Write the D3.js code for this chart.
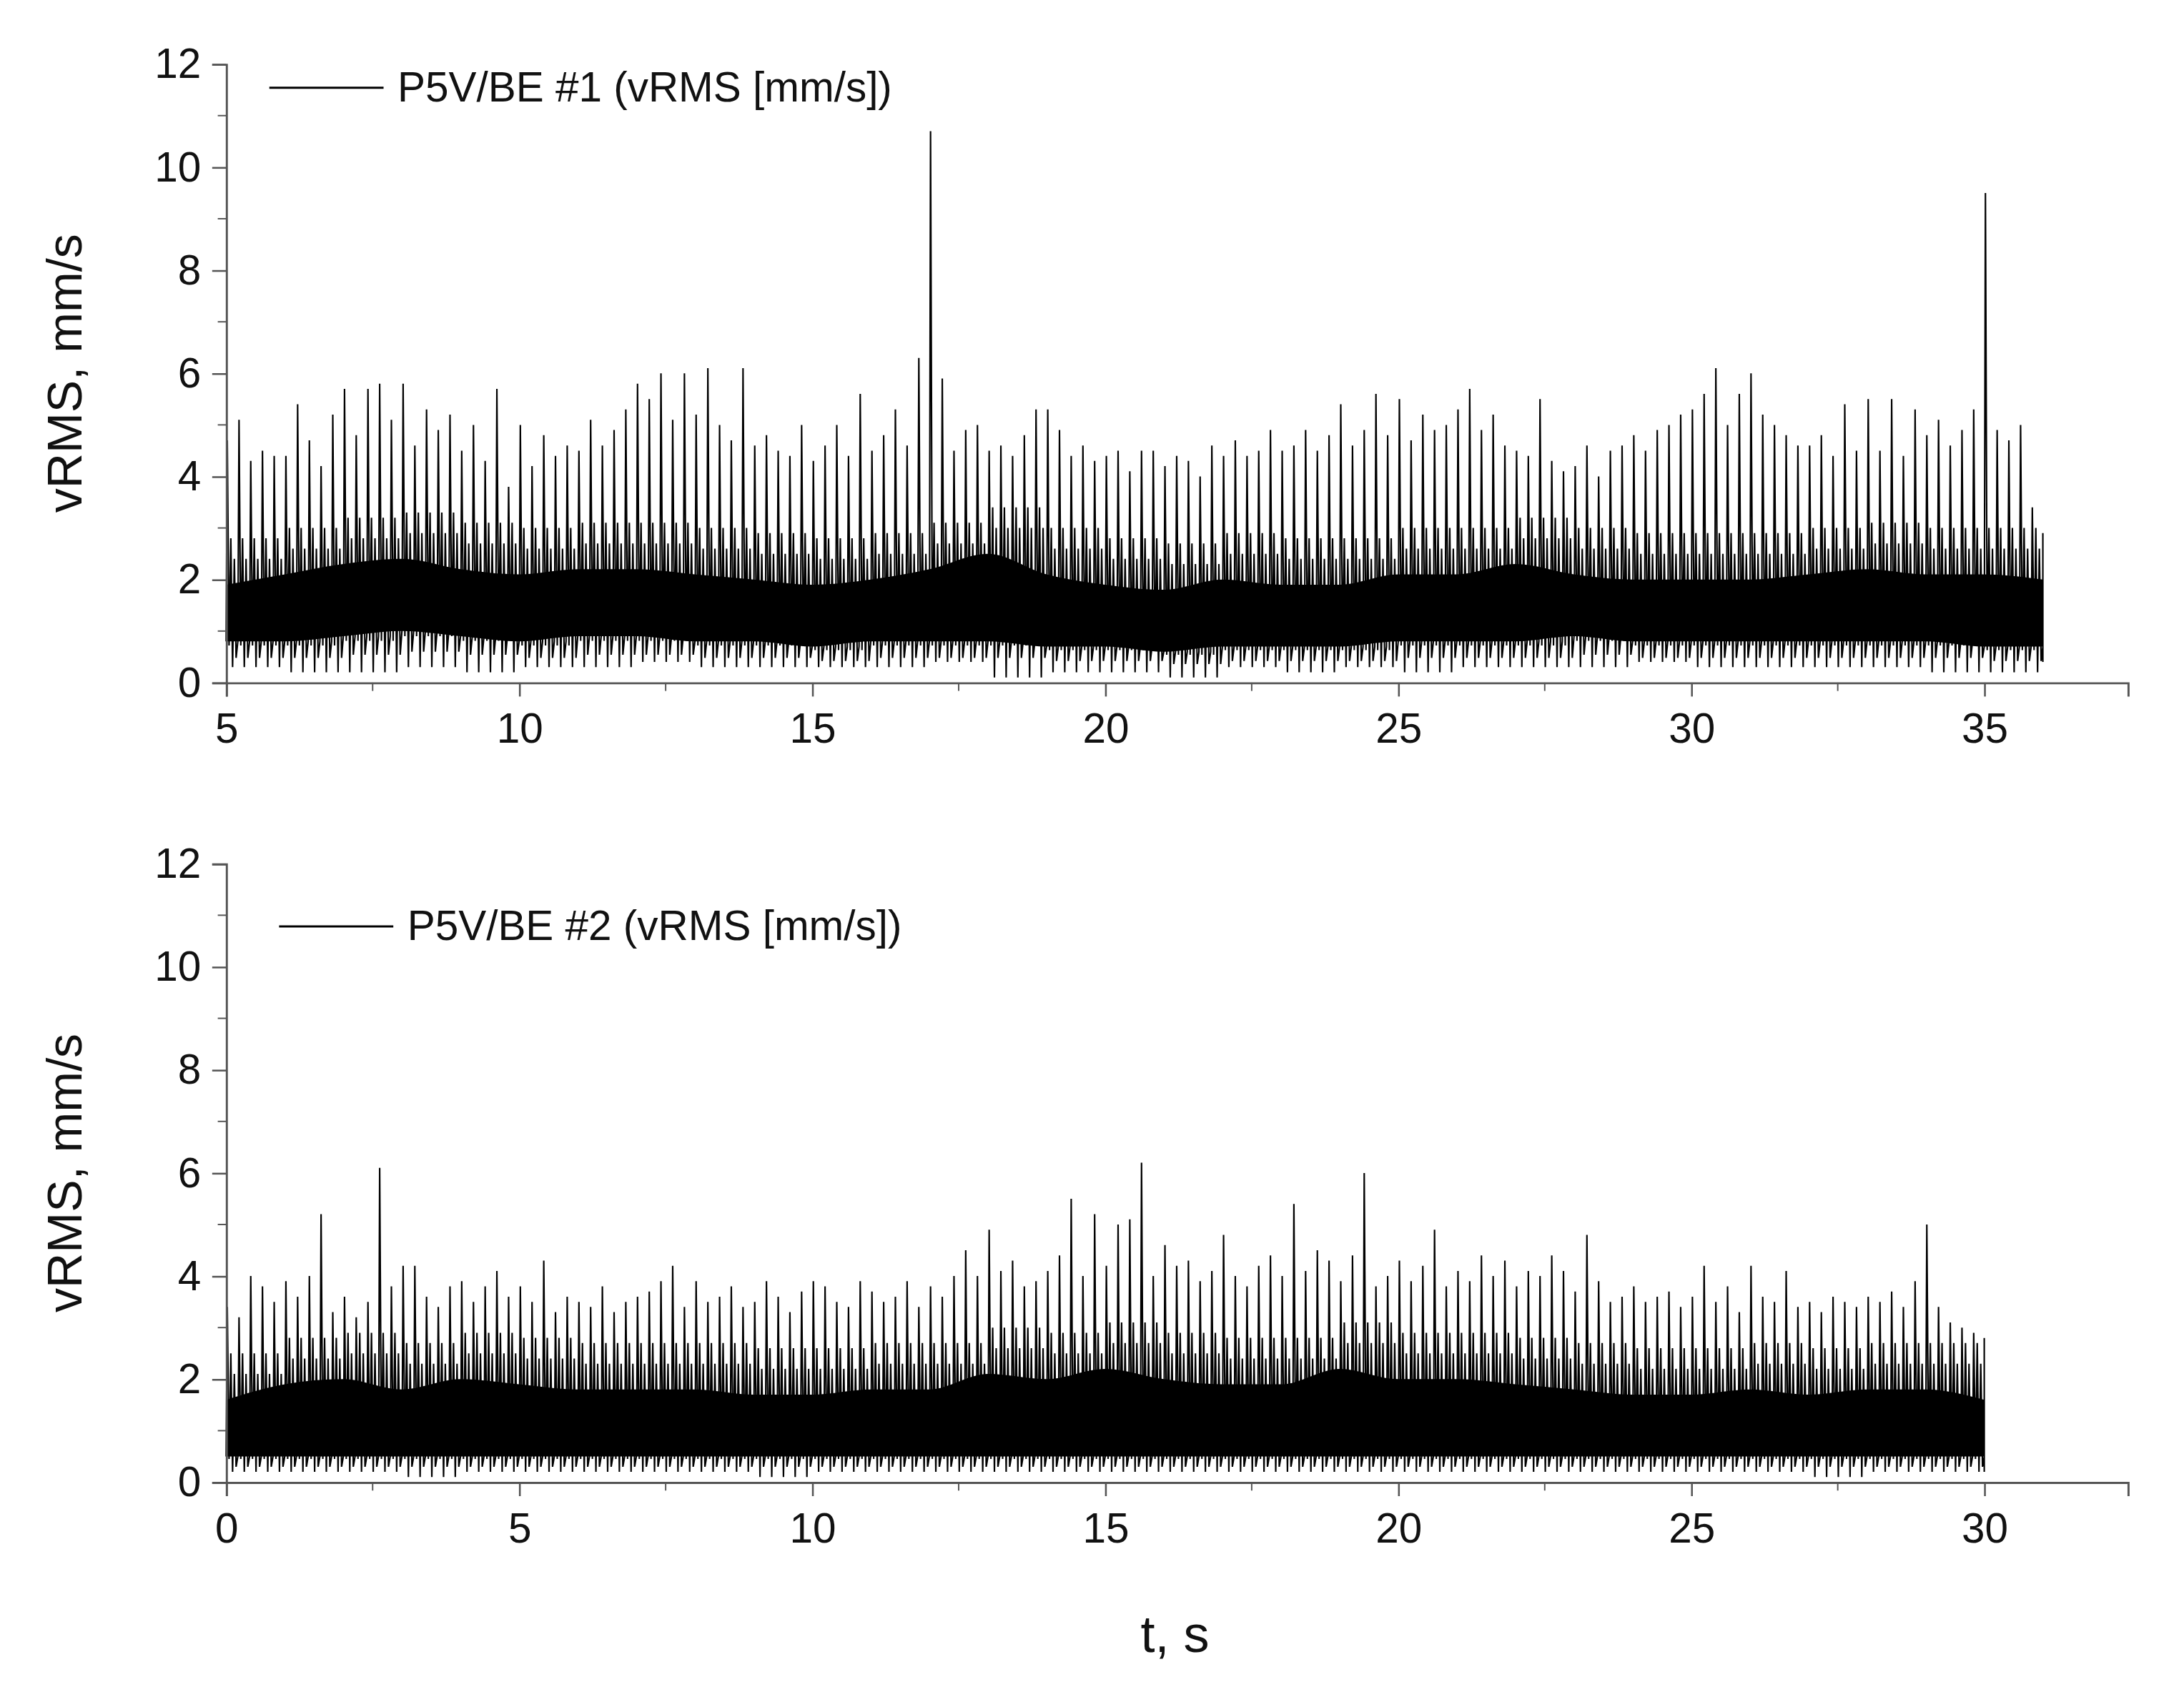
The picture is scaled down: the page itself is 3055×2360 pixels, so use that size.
<!DOCTYPE html>
<html><head><meta charset="utf-8">
<script src="https://cdn.jsdelivr.net/npm/d3@7"></script>
<style>body{margin:0;background:#fff}svg{display:block}</style>
</head><body>
<script>
// ---- data ----
const yTicks = [0,2,4,6,8,10,12];
const xTicks1 = [5,10,15,20,25,30,35];
const xTicks2 = [0,5,10,15,20,25,30];
const legend1 = "P5V/BE #1 (vRMS [mm/s])";
const legend2 = "P5V/BE #2 (vRMS [mm/s])";
const start1 = 5, step = 0.2;
const peaks1 = [4.7,5.1,4.3,4.5,4.4, 4.4,5.4,4.7,4.2,5.2, 5.7,4.8,5.7,5.8,5.1, 5.8,4.6,5.3,4.9,5.2,
 4.5,5.0,4.3,5.7,3.8, 5.0,4.2,4.8,4.4,4.6, 4.5,5.1,4.6,4.9,5.3, 5.8,5.5,6.0,5.1,6.0,
 5.2,6.1,5.0,4.7,6.1, 4.6,4.8,4.5,4.4,5.0, 4.3,4.6,5.0,4.4,5.6, 4.5,4.8,5.3,4.6,6.3,
 10.7,5.9,4.5,4.9,5.0, 4.5,4.6,4.4,4.8,5.3, 5.3,4.9,4.4,4.6,4.3, 4.4,4.5,4.1,4.5,4.5,
 4.2,4.4,4.3,4.0,4.6, 4.4,4.7,4.4,4.5,4.9, 4.5,4.6,4.9,4.5,4.8, 5.4,4.6,4.9,5.6,4.8,
 5.5,4.7,5.2,4.9,5.0, 5.3,5.7,4.9,5.2,4.6, 4.5,4.4,5.5,4.3,4.1, 4.2,4.6,4.0,4.5,4.6,
 4.8,4.5,4.9,5.0,5.2, 5.3,5.6,6.1,5.0,5.6, 6.0,5.2,5.0,4.8,4.6, 4.6,4.8,4.4,5.4,4.5,
 5.5,4.5,5.5,4.4,5.3, 4.8,5.1,4.6,4.9,5.3, 9.5,4.9,4.7,5.0,3.4, 2.5];
const mins1 = [0.3,0.2,0.2,0.3,0.2,0.3,0.3,0.4,0.3,0.3,0.3,0.3,0.4,0.1,0.2,0.2,0.1,0.3,0.2,0.3,0.2,0.3,0.3,0.3,0.4,0.3,0.3,0.3,0.3,0.2,0.2,0.4];
const coreLo1 = [0.8,0.8,0.9,1.0,0.9,0.8,0.9,0.9,0.8,0.8,0.7,0.8,0.8,0.8,0.7,0.7,0.6,0.7,0.7,0.7,0.8,0.8,0.8,0.9,0.8,0.8,0.8,0.8,0.8,0.8,0.7,0.7];
const coreHi1 = [1.9,2.1,2.3,2.4,2.2,2.1,2.2,2.2,2.1,2.0,1.9,2.0,2.2,2.5,2.1,1.9,1.8,2.0,1.9,1.9,2.1,2.1,2.3,2.1,2.0,2.0,2.0,2.1,2.2,2.1,2.1,2.0];
const start2 = 0;
const peaks2 = [3.4,3.2,4.0,3.8,3.5, 3.9,3.6,4.0,5.2,3.3, 3.6,3.2,3.5,6.1,3.8, 4.2,4.2,3.6,3.4,3.8,
 3.9,3.5,3.8,4.1,3.6, 3.8,3.5,4.3,3.3,3.6, 3.5,3.4,3.8,3.3,3.5, 3.6,3.7,3.9,4.2,3.4,
 3.9,3.5,3.6,3.8,3.4, 3.5,3.9,3.6,3.3,3.7, 3.9,3.8,3.5,3.4,3.9, 3.7,3.5,3.6,3.9,3.4,
 3.8,3.6,4.0,4.5,4.0, 4.9,4.1,4.3,3.8,3.9, 4.1,4.4,5.5,4.0,5.2, 4.2,5.0,5.1,6.2,4.0,
 4.6,4.2,4.3,3.9,4.1, 4.8,4.0,3.8,4.2,4.4, 4.0,5.4,4.1,4.5,4.3, 3.9,4.4,6.0,3.8,4.0,
 4.3,3.9,4.2,4.9,3.8, 4.1,3.9,4.4,4.0,4.3, 3.8,4.1,4.0,4.4,4.1, 3.7,4.8,3.9,3.5,3.6,
 3.8,3.5,3.6,3.7,3.4, 3.6,4.2,3.5,3.8,3.3, 4.2,3.6,3.5,4.1,3.4, 3.5,3.3,3.6,3.5,3.4,
 3.6,3.5,3.7,3.4,3.9, 5.0,3.4,3.1,3.0,2.9, 2.8];
const mins2 = [0.2,0.2,0.2,0.1,0.2,0.2,0.2,0.2,0.2,0.1,0.2,0.2,0.2,0.2,0.2,0.2,0.2,0.2,0.2,0.2,0.2,0.2,0.2,0.2,0.2,0.2,0.2,0.1,0.2,0.2,0.2];
const coreLo2 = [0.5,0.5,0.5,0.5,0.5,0.5,0.5,0.5,0.5,0.5,0.5,0.5,0.5,0.5,0.5,0.5,0.5,0.5,0.5,0.5,0.5,0.5,0.5,0.5,0.5,0.5,0.5,0.5,0.5,0.5,0.5];
const coreHi2 = [1.6,1.9,2.0,1.8,2.0,1.9,1.8,1.8,1.8,1.7,1.7,1.8,1.8,2.1,2.0,2.2,2.0,1.9,1.9,2.2,2.0,2.0,1.9,1.8,1.7,1.7,1.8,1.7,1.8,1.8,1.6];

// ---- drawing ----
const W = 1567, H = 1211;
const svg = d3.select("body").append("svg").attr("width",3055).attr("height",2360)
  .attr("viewBox",`0 0 ${W} ${H}`);
const font = "Arial, 'Liberation Sans', sans-serif";
const axisColor = "#555";

function panel(top, bottom, xmin, xmax, xTicks, start, peaks, mins, coreLo, coreHi, legend, legY, legX0){
  const x = d3.scaleLinear().domain([xmin, xmax]).range([162, 1527]);
  const y = d3.scaleLinear().domain([0,12]).range([bottom, top]);
  const g = svg.append("g");
  const tEnd = start + (peaks.length-1)*step;
  const secs = coreLo.map((_,i)=>start+i);
  const area = d3.area().x((d,i)=>x(Math.min(secs[i], tEnd))).y0((d,i)=>y(coreLo[i])).y1((d,i)=>y(coreHi[i])).curve(d3.curveMonotoneX);
  g.append("path").datum(coreLo).attr("d",area).attr("fill","#000");
  const pts = [];
  peaks.forEach((p,i)=>{
    const t = start + i*step;
    const s = Math.min(Math.floor(i*step+1e-9), mins.length-1);
    pts.push([t, coreLo[s]]);
    pts.push([t+0.02, p]);
    pts.push([t+0.05, coreLo[s]*0.9]);
    pts.push([t+0.08, coreHi[s]+0.9]);
    pts.push([t+0.11, mins[s]]);
    pts.push([t+0.14, coreHi[s]+0.5]);
    pts.push([t+0.17, coreLo[s]*0.6]);
  });
  const line = d3.line().x(d=>x(Math.min(d[0], tEnd))).y(d=>y(d[1]));
  g.append("path").datum(pts).attr("d",line).attr("fill","none").attr("stroke","#000").attr("stroke-width",1.1);
  const ax = d3.axisBottom(x).tickValues(xTicks).tickSize(10).tickPadding(12);
  const axG = g.append("g").attr("transform",`translate(0,${bottom})`).call(ax);
  const minorX = d3.range(xmin, xmax+0.01, 2.5).filter(v=>!xTicks.includes(v));
  axG.selectAll(".minor").data(minorX).enter().append("line").attr("x1",d=>x(d)).attr("x2",d=>x(d)).attr("y1",0).attr("y2",6).attr("stroke",axisColor);
  const ay = d3.axisLeft(y).tickValues(yTicks).tickSize(10).tickPadding(8);
  const ayG = g.append("g").attr("transform",`translate(162,0)`).call(ay);
  ayG.selectAll(".minor").data(d3.range(1,12,2)).enter().append("line").attr("x1",0).attr("x2",-6).attr("y1",d=>y(d)).attr("y2",d=>y(d)).attr("stroke",axisColor);
  [axG, ayG].forEach(a=>{
    a.select(".domain").attr("stroke",axisColor).attr("stroke-width",1.5);
    a.selectAll(".tick line").attr("stroke",axisColor).attr("stroke-width",1.3);
    a.selectAll("text").attr("font-family",font).attr("font-size",30).attr("fill","#111");
  });
  svg.append("text").attr("transform",`translate(58,${(top+bottom)/2}) rotate(-90)`).attr("text-anchor","middle")
    .attr("font-family",font).attr("font-size",35).attr("fill","#111").text("vRMS, mm/s");
  svg.append("line").attr("x1",legX0).attr("x2",legX0+82).attr("y1",legY).attr("y2",legY).attr("stroke","#000").attr("stroke-width",1.5);
  svg.append("text").attr("x",legX0+92).attr("y",legY+10).attr("font-family",font).attr("font-size",30).attr("fill","#111").text(legend);
}
panel(46, 490, 5, 37.45, xTicks1, start1, peaks1, mins1, coreLo1, coreHi1, legend1, 63, 193);
panel(620, 1064, 0, 32.45, xTicks2, start2, peaks2, mins2, coreLo2, coreHi2, legend2, 665, 200);
svg.append("text").attr("x",843).attr("y",1186).attr("text-anchor","middle").attr("font-family",font).attr("font-size",37).attr("fill","#111").text("t, s");
</script>
</body></html>
